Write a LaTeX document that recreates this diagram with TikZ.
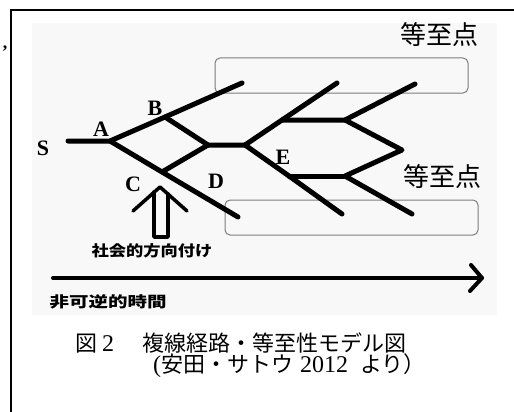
\documentclass[tikz,border=0pt]{standalone}
\usepackage{fontspec}
\newfontfamily\cjk{Noto Sans CJK JP}
\newfontfamily\latserif{Liberation Serif}
\usetikzlibrary{calc}
\definecolor{bgpaper}{RGB}{248,248,248}
\definecolor{boxline}{RGB}{125,125,125}
\newcommand{\latdig}[1]{{\latserif\fontsize{24}{24}\selectfont #1}}
\begin{document}
\begin{tikzpicture}[x=1pt,y=-1pt,
  branch/.style={line width=5pt, line cap=round, line join=round},
  eqbox/.style={draw=boxline, line width=1pt, rounded corners=5pt, inner sep=0pt},
  letter/.style={inner sep=0pt, font=\latserif\bfseries\fontsize{22}{22}\selectfont},
  eqlabel/.style={inner sep=0pt, font=\cjk\fontsize{26}{26}\selectfont},
  gothic/.style={inner sep=0pt, font=\cjk\bfseries\fontsize{15}{15}\selectfont},
  caption/.style={inner sep=0pt, anchor=west, font=\cjk\fontsize{22}{22}\selectfont},
  hollow/.style={line width=3.5pt, line cap=round, line join=round},
  timeline/.style={line width=4pt, line cap=round, line join=round}]
\useasboundingbox (0,0) rectangle (514,412);
\fill[white] (0,0) rectangle (514,412);
\fill[bgpaper] (32,23) rectangle (497,315);
% frame
\coordinate (f1) at (11,412);
\coordinate (f2) at (11,10);
\coordinate (f3) at (514,10);
\draw[line width=2pt] (f1) -- (f2) -- (f3);
\node[inner sep=0pt, font=\latserif\bfseries\fontsize{18}{18}\selectfont] (comma) at (5,49) {,};
% equifinality boxes
\node[eqbox, minimum width=253pt, minimum height=35pt] (box1) at (341.5,75.5) {};
\node[eqbox, minimum width=253pt, minimum height=35pt] (box2) at (351.5,217.5) {};
\node[eqlabel] (eq1) at (439,35) {等至点};
\node[eqlabel] (eq2) at (442,177) {等至点};
% junctions
\coordinate (S0) at (68,141);
\coordinate (A) at (110,141);
\coordinate (Bj) at (165,117);
\coordinate (Bend) at (242,83);
\coordinate (Cj) at (162,172);
\coordinate (Cend) at (238,217);
\coordinate (M) at (208,145);
\coordinate (N) at (245,145);
\coordinate (U1) at (282,120);
\coordinate (Uend) at (337,83);
\coordinate (P) at (345,120);
\coordinate (Pend) at (415,84);
\coordinate (R) at (402,150);
\coordinate (Q) at (345,176);
\coordinate (Q1) at (289,176);
\coordinate (Lend) at (342,214);
\coordinate (Qend) at (412,214);
% branches
\draw[branch] (S0) -- (A) -- (Bj) -- (Bend);
\draw[branch] (A) -- (Cj) -- (Cend);
\draw[branch] (Bj) -- (M) -- (N);
\draw[branch] (Cj) -- (M);
\draw[branch] (N) -- (U1) -- (Uend);
\draw[branch] (N) -- (Q1) -- (Lend);
\draw[branch] (U1) -- (P) -- (Pend);
\draw[branch] (P) -- (R) -- (Q) -- (Qend);
\draw[branch] (Q) -- (Q1);
% letters
\node[letter] (lS) at (43,148) {S};
\node[letter] (lA) at (101,129) {A};
\node[letter] (lB) at (155,108) {B};
\node[letter] (lC) at (133,184) {C};
\node[letter] (lD) at (216,181) {D};
\node[letter] (lE) at (283,157) {E};
% hollow arrow (social direction)
\coordinate (tip) at (160,187);
\coordinate (wl) at (133,211);
\coordinate (wr) at (187,211);
\coordinate (sl) at (154,192);
\coordinate (sr) at (168,194);
\coordinate (bl) at (154,237);
\coordinate (br) at (168,237);
\draw[hollow] (wl) -- (tip) -- (wr);
\draw[hollow] (sl) -- (bl) -- (br) -- (sr);
\node[gothic, xscale=1.15] (social) at (152,251) {社会的方向付け};
% time arrow
\coordinate (t0) at (53,278);
\coordinate (t1) at (482,278);
\coordinate (tw1) at (471,265);
\coordinate (tw2) at (470,291);
\draw[timeline] (t0) -- (t1);
\draw[timeline] (tw1) -- (t1) -- (tw2);
\node[gothic, xscale=1.3] (time) at (108,302) {非可逆的時間};
% caption
\node[caption] (cap1) at (75,343) {図\hspace{5pt}\latdig{2}\hspace{28pt}複線経路・等至性モデル図};
\node[caption] (cap2) at (153,366) {\latdig{(}安田・サトウ\hspace{7pt}\latdig{2012}\hspace{12pt}より）};
\end{tikzpicture}
\end{document}
